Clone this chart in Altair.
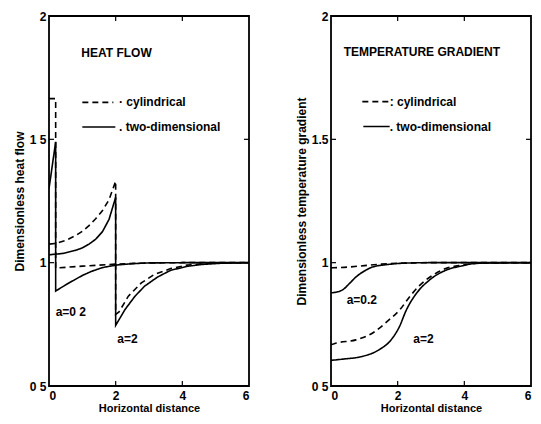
import altair as alt
import pandas as pd

# ---------------- data ----------------
# Left panel: dimensionless heat flow
hf_cyl_a02_x = [0.0, 0.2, 0.2, 0.6, 1.0, 1.5, 2.0, 3.0, 4.0, 6.0]
hf_cyl_a02_y = [1.665, 1.665, 0.978, 0.982, 0.986, 0.990, 0.994, 0.999, 1.0, 1.0]

hf_2d_a02_x = [0.0, 0.2, 0.2, 0.5, 0.76, 1.0, 1.26, 1.6, 2.0, 2.5, 3.0, 4.0, 6.0]
hf_2d_a02_y = [1.30, 1.49, 0.885, 0.91, 0.93, 0.948, 0.964, 0.980, 0.990, 0.996, 0.999, 1.0, 1.0]

hf_cyl_a2_x = [0.0, 0.2, 0.5, 0.8, 1.0, 1.2, 1.4, 1.6, 1.8, 2.0, 2.0, 2.1, 2.38, 2.77, 3.16, 3.65, 4.14, 4.7, 6.0]
hf_cyl_a2_y = [1.075, 1.078, 1.09, 1.11, 1.127, 1.15, 1.178, 1.21, 1.255, 1.33, 0.79, 0.80, 0.864, 0.918, 0.952, 0.976, 0.990, 0.997, 1.0]

hf_2d_a2_x = [0.0, 0.4, 0.8, 1.0, 1.2, 1.4, 1.6, 1.8, 2.0, 2.0, 2.15, 2.28, 2.58, 2.87, 3.26, 3.65, 4.14, 4.6, 5.2, 6.0]
hf_2d_a2_y = [1.032, 1.037, 1.05, 1.06, 1.075, 1.095, 1.125, 1.175, 1.265, 0.746, 0.78, 0.81, 0.864, 0.905, 0.942, 0.969, 0.985, 0.993, 0.998, 1.0]

# Right panel: dimensionless temperature gradient
tg_cyl_a02_x = [0.0, 0.5, 1.0, 1.5, 2.0, 3.0, 6.0]
tg_cyl_a02_y = [0.979, 0.982, 0.988, 0.994, 0.998, 1.0, 1.0]

tg_2d_a02_x = [0.0, 0.2, 0.35, 0.55, 0.75, 1.0, 1.24, 1.73, 2.2, 3.0, 6.0]
tg_2d_a02_y = [0.878, 0.882, 0.89, 0.915, 0.942, 0.966, 0.982, 0.993, 0.998, 1.0, 1.0]

tg_cyl_a2_x = [0.0, 0.16, 0.75, 1.24, 1.73, 2.07, 2.36, 2.66, 3.05, 3.44, 3.93, 4.5, 6.0]
tg_cyl_a2_y = [0.667, 0.674, 0.687, 0.714, 0.767, 0.81, 0.862, 0.908, 0.949, 0.976, 0.990, 0.998, 1.0]

tg_2d_a2_x = [0.0, 0.35, 0.94, 1.43, 1.82, 2.05, 2.26, 2.56, 2.95, 3.44, 3.93, 4.4, 6.0]
tg_2d_a2_y = [0.604, 0.609, 0.620, 0.646, 0.69, 0.74, 0.808, 0.875, 0.929, 0.969, 0.987, 0.998, 1.0]

# axis ticks and labels
x_ticks = [0, 2, 4, 6]
y_ticks = [0.5, 1.0, 1.5, 2.0]
left_y_labels = ["0 5", "1", "1 5", "2"]
right_y_labels = ["0 5", "1", "1.5", "2"]
inner_x_ticks = [2, 4]
inner_y_ticks = [1.0, 1.5]

kinds = ["cylindrical", "two-dimensional"]

# annotations (data coordinates)
left_notes_label = ["HEAT FLOW", "\u00b7 cylindrical", ". two-dimensional", "a=0 2", "a=2"]
left_notes_x = [0.97, 2.1, 2.1, 0.2, 2.05]
left_notes_y = [1.85, 1.65, 1.55, 0.80, 0.69]
left_key_x = [1.0, 1.0]
left_key_x2 = [1.93, 1.99]
left_key_y = [1.65, 1.55]

right_notes_label = ["TEMPERATURE GRADIENT", ": cylindrical", ". two-dimensional", "a=0.2", "a=2"]
right_notes_x = [0.38, 1.76, 1.76, 0.47, 2.47]
right_notes_y = [1.855, 1.653, 1.552, 0.847, 0.69]
right_key_x = [0.94, 0.97]
right_key_x2 = [1.74, 1.76]
right_key_y = [1.653, 1.552]

# ---------------- build tables ----------------
def curves(specs):
    rows = []
    for name, kind, xs, ys in specs:
        for i, (xv, yv) in enumerate(zip(xs, ys)):
            rows.append({"x": xv, "y": yv, "series": name, "kind": kind, "order": i})
    return pd.DataFrame(rows)

left_df = curves([
    ("cyl02", "cylindrical", hf_cyl_a02_x, hf_cyl_a02_y),
    ("2d02", "two-dimensional", hf_2d_a02_x, hf_2d_a02_y),
    ("cyl2", "cylindrical", hf_cyl_a2_x, hf_cyl_a2_y),
    ("2d2", "two-dimensional", hf_2d_a2_x, hf_2d_a2_y),
])
right_df = curves([
    ("cyl02", "cylindrical", tg_cyl_a02_x, tg_cyl_a02_y),
    ("2d02", "two-dimensional", tg_2d_a02_x, tg_2d_a02_y),
    ("cyl2", "cylindrical", tg_cyl_a2_x, tg_cyl_a2_y),
    ("2d2", "two-dimensional", tg_2d_a2_x, tg_2d_a2_y),
])

W, H = 200, 370
FONT = "Liberation Sans"
dash_scale = alt.Scale(domain=kinds, range=[[6, 4], [1, 0]])
xscale = alt.Scale(domain=[0, 6], nice=False, zero=False)
yscale = alt.Scale(domain=[0.5, 2.0], nice=False, zero=False)


def label_expr(labels):
    expr = "''"
    for v, lab in reversed(list(zip(y_ticks, labels))):
        expr = f"datum.value == {v} ? '{lab}' : ({expr})"
    return expr


def panel(df, ylabels, ytitle, notes_label, notes_x, notes_y, kx, kx2, ky, interp):
    x_enc = alt.X("x:Q", scale=xscale, title="Horizontal distance",
                  axis=alt.Axis(values=x_ticks, format="d", grid=False, ticks=False,
                                domain=False, labelPadding=4, titlePadding=1,
                                labelFontSize=12, titleFontSize=11))
    y_enc = alt.Y("y:Q", scale=yscale, title=ytitle,
                  axis=alt.Axis(values=y_ticks, labelExpr=label_expr(ylabels), grid=False,
                                ticks=False, domain=False, labelPadding=3, titlePadding=3,
                                labelFontSize=12, titleFontSize=12))
    lines = alt.Chart(df).mark_line(color="black", strokeWidth=1.6, clip=True,
                                    interpolate=interp).encode(
        x=x_enc, y=y_enc,
        detail="series:N",
        order="order:Q",
        strokeDash=alt.StrokeDash("kind:N", scale=dash_scale, legend=None),
    )
    notes = pd.DataFrame({"label": notes_label, "x": notes_x, "y": notes_y})
    text = alt.Chart(notes).mark_text(align="left", baseline="middle", font=FONT,
                                      fontWeight="bold", fontSize=12, color="black").encode(
        x=alt.X("x:Q", scale=xscale), y=alt.Y("y:Q", scale=yscale), text="label:N")
    key = pd.DataFrame({"x": kx, "x2": kx2, "y": ky, "kind": kinds})
    keylines = alt.Chart(key).mark_rule(color="black", strokeWidth=1.6).encode(
        x=alt.X("x:Q", scale=xscale), x2="x2:Q", y=alt.Y("y:Q", scale=yscale),
        strokeDash=alt.StrokeDash("kind:N", scale=dash_scale, legend=None))
    xt = pd.DataFrame({"v": inner_x_ticks})
    yt = pd.DataFrame({"v": inner_y_ticks})
    bottom_t = alt.Chart(xt).mark_rule(color="black", strokeWidth=1.2).encode(
        x=alt.X("v:Q", scale=xscale), y=alt.value(H), y2=alt.value(H - 5))
    top_t = alt.Chart(xt).mark_rule(color="black", strokeWidth=1.2).encode(
        x=alt.X("v:Q", scale=xscale), y=alt.value(0), y2=alt.value(5))
    left_t = alt.Chart(yt).mark_rule(color="black", strokeWidth=1.2).encode(
        y=alt.Y("v:Q", scale=yscale), x=alt.value(0), x2=alt.value(5))
    right_t = alt.Chart(yt).mark_rule(color="black", strokeWidth=1.2).encode(
        y=alt.Y("v:Q", scale=yscale), x=alt.value(W), x2=alt.value(W - 5))
    return alt.layer(lines, keylines, text, bottom_t, top_t, left_t, right_t).properties(
        width=W, height=H)


left = panel(left_df, left_y_labels, "Dimensionless heat flow",
             left_notes_label, left_notes_x, left_notes_y, left_key_x, left_key_x2, left_key_y,
             "linear")
right = panel(right_df, right_y_labels, "Dimensionless temperature gradient",
              right_notes_label, right_notes_x, right_notes_y, right_key_x, right_key_x2, right_key_y,
              "monotone")

chart = alt.hconcat(left, right, spacing=43).properties(
    padding={"left": 4, "top": 1, "right": 0, "bottom": 0},
    background="white",
).configure_view(stroke="black", strokeWidth=1.8).configure_axis(
    labelFont=FONT, titleFont=FONT, labelFontWeight="bold", titleFontWeight="bold",
    labelColor="black", titleColor="black",
).configure_concat(spacing=43)

chart.save("out.html", embed_options={"renderer": "svg", "actions": False})
